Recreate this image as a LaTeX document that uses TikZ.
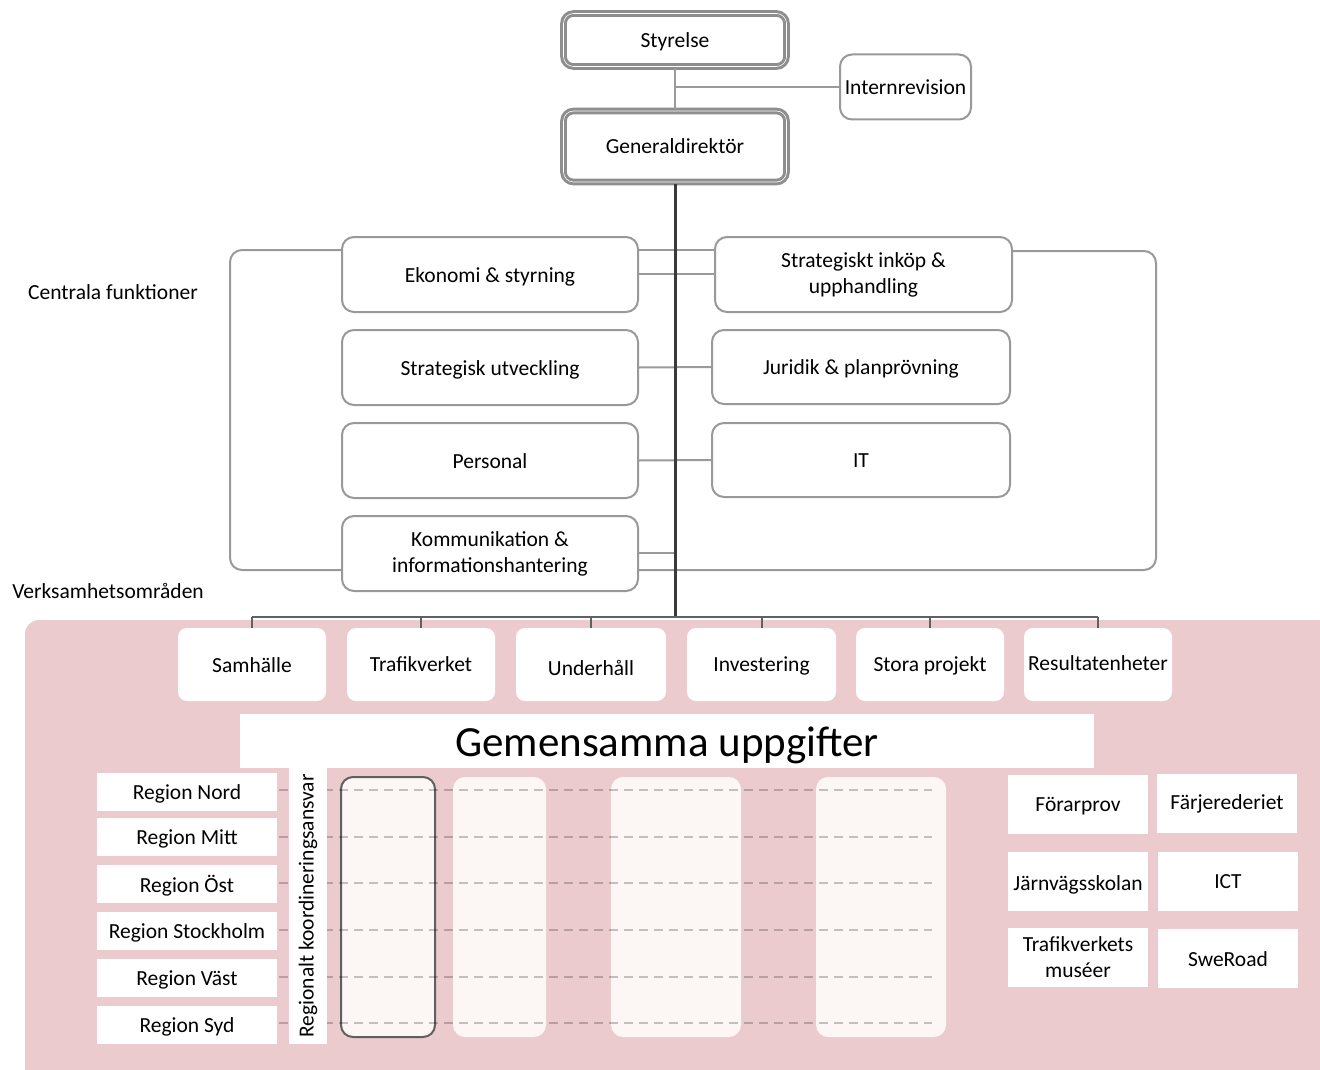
\documentclass[tikz,border=0pt]{standalone}
\usepackage{fontspec}
\setmainfont{Carlito}
\definecolor{pinkbg}{HTML}{EBCBCD}
\definecolor{colfill}{HTML}{FCF6F5}
\definecolor{linegray}{HTML}{9A9A9A}
\definecolor{boxgray}{HTML}{8E8E8E}
\definecolor{darkline}{HTML}{3A3A3A}
\newcommand{\lw}[2][-2pt]{\raisebox{#1}[\height][\depth]{#2}}
\begin{document}
\begin{tikzpicture}[x=1pt,y=-1pt,
  every node/.style={font=\fontsize{21.5}{25}\selectfont, inner sep=0pt, text=black},
  topbox/.style={draw=boxgray, line width=3pt, double=white, double distance=0.6pt, rounded corners=10pt, fill=white, align=center},
  cbox/.style={draw=boxgray!90, line width=2pt, rounded corners=12pt, fill=white, align=center},
  vbox/.style={fill=white, rounded corners=9pt, minimum width=148pt, minimum height=73pt, align=center},
  wbox/.style={fill=white, align=center},
  conn/.style={draw=linegray, line width=2pt},
  mainline/.style={draw=darkline, line width=3pt},
  bus/.style={draw=darkline!80, line width=2pt},
  colbox/.style={fill=colfill, rounded corners=12pt, minimum height=260pt},
  dashl/.style={draw=black, draw opacity=0.22, line width=1.3pt, dash pattern=on 9pt off 6pt},
  lbl/.style={align=center}
]
\useasboundingbox (0,0) rectangle (1320,1070);
\fill[white] (0,0) rectangle (1320,1070);

% ---------- top ----------
\node[topbox, minimum width=223pt, minimum height=53pt] (sty) at (675,40) {\lw{Styrelse}};
\node[cbox, minimum width=131pt, minimum height=65pt] (intrev) at (905.5,87) {Internrevision};
\node[topbox, minimum width=223pt, minimum height=71pt] (gd) at (675,146.5) {Generaldirektör};
\coordinate (j1) at (675,87);
\draw[conn] (sty.south) -- (gd.north);
\draw[conn] (j1) -- (intrev.west);

% ---------- central functions ----------
\node[cbox, minimum width=296pt, minimum height=75pt] (eko) at (490,274.5) {\lw{Ekonomi \& styrning}};
\node[cbox, minimum width=296pt, minimum height=75pt] (sut) at (490,367.5) {\lw{Strategisk utveckling}};
\node[cbox, minimum width=296pt, minimum height=75pt] (per) at (490,460.5) {\lw[-1pt]{Personal}};
\node[cbox, minimum width=296pt, minimum height=75pt] (kom) at (490,553.5) {Kommunikation \&\\[1pt]informationshantering};
\node[cbox, minimum width=297pt, minimum height=75pt] (ink) at (863.5,274.5) {Strategiskt inköp \&\\[1pt]upphandling};
\node[cbox, minimum width=298pt, minimum height=74pt] (jur) at (861,367) {\lw{Juridik \& planprövning}};
\node[cbox, minimum width=298pt, minimum height=74pt] (it) at (861,460) {\lw[-1pt]{IT}};

\draw[conn] (eko.east |- 0,250) -- (ink.west |- 0,250);
\draw[conn] (eko.east |- 0,274) -- (ink.west |- 0,274);
\draw[conn] (sut.east) -- (jur.west);
\draw[conn] (per.east) -- (it.west);
\coordinate (kj) at (675,553);
\draw[conn] (kom.east |- 0,553) -- (kj);
\draw[conn, rounded corners=12pt] (eko.west |- 0,250) -- (230,250) -- (230,570) -- (kom.west |- 0,570);
\draw[conn, rounded corners=12pt] (ink.east |- 0,251) -- (1156,251) -- (1156,570) -- (kom.east |- 0,570);

\node[lbl] (cf) at (113,292) {Centrala funktioner};
\node[lbl] (vo) at (108,591) {Verksamhetsområden};

% ---------- pink region ----------
\fill[pinkbg, rounded corners=14pt] (25,620) rectangle (1340,1090);

% bus
\coordinate (busc) at (675,617);
\draw[mainline] (gd.south) -- (busc);
\node[vbox] (sam) at (252,664.5) {\lw[-1pt]{Samhälle}};
\node[vbox] (trv) at (421,664.5) {Trafikverket};
\node[vbox, minimum width=150pt] (und) at (591,664.5) {\lw[-3pt]{Underhåll}};
\node[vbox, minimum width=149pt] (inv) at (761.5,664.5) {\lw[-1pt]{Investering}};
\node[vbox] (sto) at (930,664.5) {\lw[-1pt]{Stora projekt}};
\node[vbox] (res) at (1098,664.5) {\lw[1pt]{Resultatenheter}};
\coordinate (busl) at (252,617);
\coordinate (busr) at (1098,617);
\draw[bus] (busl) -- (busr);
\foreach \n in {sam,trv,und,inv,sto,res}{
  \draw[bus] (\n.north |- busl) -- (\n.north);
}

% Gemensamma uppgifter
\node[wbox, minimum width=854pt, minimum height=54pt, font=\fontsize{43}{48}\selectfont] (gem) at (667,741) {\lw[-4pt]{Gemensamma uppgifter}};

% columns
\node[colbox, minimum width=94pt, draw=gray!75!black, line width=2pt] (c1) at (388,907) {};
\node[colbox, minimum width=93pt] (c2) at (499.5,907) {};
\node[colbox, minimum width=130pt] (c3) at (676,907) {};
\node[colbox, minimum width=130pt] (c4) at (881,907) {};
\foreach \y in {790,837,883,930,977,1023}{
  \draw[dashl] (279,\y) -- (932,\y);
}

% label box
\node[wbox, minimum width=38pt, minimum height=276pt] (rkbox) at (308,906) {};
\node[rotate=90] (rk) at (rkbox.center) {Regionalt koordineringsansvar};

% regions
\node[wbox, minimum width=180pt, minimum height=38pt] (rn) at (187,792) {\lw{Region Nord}};
\node[wbox, minimum width=180pt, minimum height=38pt] (rm) at (187,837) {\lw{Region Mitt}};
\node[wbox, minimum width=180pt, minimum height=38pt] (ro) at (187,884) {\lw{Region Öst}};
\node[wbox, minimum width=180pt, minimum height=38pt] (rs) at (187,931) {\lw{Region Stockholm}};
\node[wbox, minimum width=180pt, minimum height=38pt] (rv) at (187,978) {\lw{Region Väst}};
\node[wbox, minimum width=180pt, minimum height=38pt] (ry) at (187,1025) {\lw{Region Syd}};

% right boxes
\node[wbox, minimum width=140pt, minimum height=59pt] (fp) at (1078,804.5) {\lw{Förarprov}};
\node[wbox, minimum width=140pt, minimum height=59pt] (fr) at (1227,803.5) {Färjerederiet};
\node[wbox, minimum width=140pt, minimum height=59pt] (jv) at (1078,881.5) {\lw[-3pt]{Järnvägsskolan}};
\node[wbox, minimum width=140pt, minimum height=59pt] (ict) at (1228,881.5) {ICT};
\node[wbox, minimum width=140pt, minimum height=59pt] (tm) at (1078,957.5) {Trafikverkets\\[1pt]muséer};
\node[wbox, minimum width=140pt, minimum height=59pt] (sr) at (1228,958.5) {\lw[-1pt]{SweRoad}};
\end{tikzpicture}
\end{document}
